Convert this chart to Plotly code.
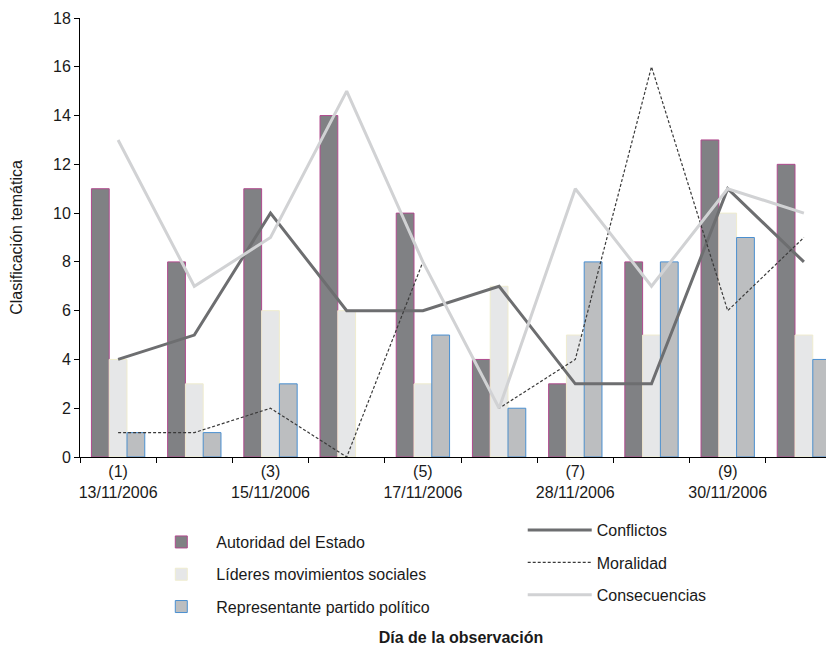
import plotly.graph_objects as go

categories = ["(1)", "(2)", "(3)", "(4)", "(5)", "(6)", "(7)", "(8)", "(9)", "(10)"]
dates = ["13/11/2006", "", "15/11/2006", "", "17/11/2006", "", "28/11/2006", "", "30/11/2006", ""]
show_label = [True, False, True, False, True, False, True, False, True, False]

autoridad = [11, 8, 11, 14, 10, 4, 3, 8, 13, 12]
lideres = [4, 3, 6, 6, 3, 7, 5, 5, 10, 5]
representante = [1, 1, 3, 0, 5, 2, 8, 8, 9, 4]

conflictos = [4, 5, 10, 6, 6, 7, 3, 3, 11, 8]
moralidad = [1, 1, 2, 0, 8, 2, 4, 16, 6, 9]
consecuencias = [13, 7, 9, 15, 8, 2, 11, 7, 11, 10]

y_ticks = list(range(0, 19, 2))

ticktext = [f"{c}<br>{d}" if s else "" for c, d, s in zip(categories, dates, show_label)]

FONT = "Liberation Sans, Arial, sans-serif"
FS = 16


def edge_widths(values):
    return [1 if v > 0 else 0 for v in values]


fig = go.Figure()
fig.add_trace(go.Bar(x=categories, y=autoridad, name="Autoridad del Estado",
                     marker=dict(color="#808184",
                                 line=dict(color="#b04a8e", width=edge_widths(autoridad))),
                     legend="legend", legendgroup="a"))
fig.add_trace(go.Bar(x=categories, y=lideres, name="Líderes movimientos sociales",
                     marker=dict(color="#e6e7e8",
                                 line=dict(color="#efeccf", width=edge_widths(lideres))),
                     legend="legend", legendgroup="b"))
fig.add_trace(go.Bar(x=categories, y=representante, name="Representante partido político",
                     marker=dict(color="#bcbec0",
                                 line=dict(color="#4a8fd0", width=edge_widths(representante))),
                     legend="legend", legendgroup="c"))

fig.add_trace(go.Scatter(x=categories, y=conflictos, name="Conflictos", mode="lines",
                         line=dict(color="#6d6e70", width=3),
                         legend="legend2", legendgroup="d"))
fig.add_trace(go.Scatter(x=categories, y=moralidad, name="Moralidad", mode="lines",
                         line=dict(color="#3a3a3a", width=1.2, dash="3px,2px"),
                         legend="legend2", legendgroup="e"))
fig.add_trace(go.Scatter(x=categories, y=consecuencias, name="Consecuencias", mode="lines",
                         line=dict(color="#d1d2d4", width=3),
                         legend="legend2", legendgroup="f"))

fig.update_layout(
    width=834, height=647,
    margin=dict(l=72, r=0, t=10, b=198),
    paper_bgcolor="white", plot_bgcolor="white",
    font=dict(family=FONT, size=FS, color="#1a1a1a"),
    barmode="group", bargap=0.30, bargroupgap=0,
    legend=dict(x=0.087, y=-0.155, xanchor="left", yanchor="top",
                itemwidth=60, tracegroupgap=8.5, bgcolor="rgba(0,0,0,0)",
                font=dict(family=FONT, size=FS)),
    legend2=dict(x=0.581, y=-0.128, xanchor="left", yanchor="top",
                 itemwidth=64, tracegroupgap=8.5, bgcolor="rgba(0,0,0,0)",
                 font=dict(family=FONT, size=FS)),
    xaxis=dict(type="category", range=[-0.5, 9.5], automargin=False,
               tickmode="array", tickvals=categories, ticktext=ticktext, tickangle=0,
               tickson="boundaries", ticks="outside", ticklen=5, tickcolor="black",
               showline=True, linecolor="black", linewidth=1, showgrid=False,
               tickfont=dict(size=FS),
               title=dict(text="<b>Día de la observación</b>", standoff=131,
                          font=dict(size=FS))),
    yaxis=dict(range=[0, 18], tickvals=y_ticks, ticks="outside", ticklen=5, automargin=False,
               tickcolor="black", showline=True, linecolor="black", linewidth=1,
               showgrid=False, zeroline=False, tickfont=dict(size=FS),
               title=dict(text="Clasificación temática", standoff=26, font=dict(size=FS))),
)

fig.write_html("out.html")
